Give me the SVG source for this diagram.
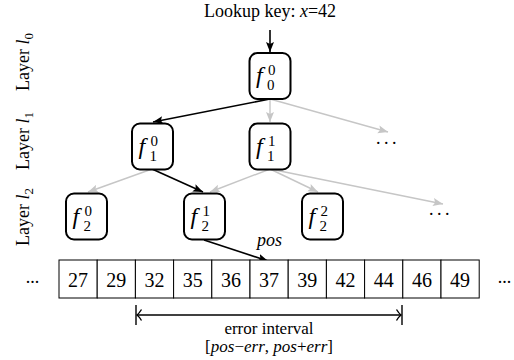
<svg xmlns="http://www.w3.org/2000/svg" width="514" height="360" viewBox="0 0 514 360" font-family="'Liberation Serif', 'DejaVu Serif', serif">
<style>
text{font-family:'Liberation Serif','DejaVu Serif',serif;fill:#000}
.t{font-size:18px}
.it{font-style:italic}
.node rect{fill:#fff;stroke:#000;stroke-width:2}
.f{font-size:24px;font-style:italic}
.s{font-size:15px}
.blk{stroke:#000;stroke-width:1.6;fill:none}
.gry{stroke:#c6c6c6;stroke-width:1.4;fill:none}
.cell{fill:#fff;stroke:#000;stroke-width:1}
.num{font-size:20px;text-anchor:middle}
.ei{font-size:17px;text-anchor:middle}
</style>
<defs>
<marker id="ab" markerUnits="userSpaceOnUse" markerWidth="11" markerHeight="9" refX="10" refY="4" orient="auto" viewBox="0 0 11 8">
<path d="M0,0 L10,4 L0,8 L2,4 z" fill="#000"/>
</marker>
<marker id="ag" markerUnits="userSpaceOnUse" markerWidth="11" markerHeight="9" refX="10" refY="4" orient="auto" viewBox="0 0 11 8">
<path d="M0,0 L10,4 L0,8 L2,4 z" fill="#c6c6c6"/>
</marker>
</defs>

<g id="labels">
<text class="t" x="270" y="17" text-anchor="middle">Lookup key: <tspan class="it">x</tspan>=42</text>
<text class="t" transform="translate(29,62) rotate(-90)" text-anchor="middle">Layer <tspan class="it">l</tspan><tspan font-size="13" dy="4">0</tspan></text>
<text class="t" transform="translate(29,141) rotate(-90)" text-anchor="middle">Layer <tspan class="it">l</tspan><tspan font-size="13" dy="4">1</tspan></text>
<text class="t" transform="translate(29,217) rotate(-90)" text-anchor="middle">Layer <tspan class="it">l</tspan><tspan font-size="13" dy="4">2</tspan></text>
<text class="t" x="388" y="144" text-anchor="middle" letter-spacing="3.5">...</text>
<text class="t" x="441" y="215" text-anchor="middle" letter-spacing="3.5">...</text>
<text class="t it" x="257" y="246">pos</text>
</g>

<g id="connectors">
<line class="blk" x1="270" y1="30" x2="270" y2="52" marker-end="url(#ab)"/>
<line class="gry" x1="270" y1="99" x2="270" y2="122" marker-end="url(#ag)"/>
<line class="gry" x1="270" y1="99" x2="388" y2="132" marker-end="url(#ag)"/>
<line class="blk" x1="270" y1="99" x2="153" y2="122" marker-end="url(#ab)"/>
<line class="gry" x1="152" y1="169" x2="88" y2="192" marker-end="url(#ag)"/>
<line class="gry" x1="270" y1="169" x2="210" y2="192" marker-end="url(#ag)"/>
<line class="gry" x1="270" y1="169" x2="318" y2="192" marker-end="url(#ag)"/>
<line class="gry" x1="270" y1="169" x2="443" y2="204" marker-end="url(#ag)"/>
<line class="blk" x1="152" y1="169" x2="203" y2="192" marker-end="url(#ab)"/>
<line class="blk" x1="204" y1="240" x2="268" y2="261" marker-end="url(#ab)"/>
</g>

<g id="f0_0" class="node">
<rect x="249.5" y="53" width="41" height="46" rx="8"/>
<text class="f" x="256" y="83">f</text><text class="s" x="268" y="75">0</text><text class="s" x="267" y="90">0</text>
</g>
<g id="f1_0" class="node">
<rect x="132" y="123.5" width="41" height="46" rx="8"/>
<text class="f" x="138.5" y="153.5">f</text><text class="s" x="150.5" y="145.5">0</text><text class="s" x="149.5" y="160.5">1</text>
</g>
<g id="f1_1" class="node">
<rect x="249.5" y="123.5" width="41" height="46" rx="8"/>
<text class="f" x="256" y="153.5">f</text><text class="s" x="268" y="145.5">1</text><text class="s" x="267" y="160.5">1</text>
</g>
<g id="f2_0" class="node">
<rect x="66" y="193.5" width="41" height="46" rx="8"/>
<text class="f" x="72.5" y="223.5">f</text><text class="s" x="84.5" y="215.5">0</text><text class="s" x="83.5" y="230.5">2</text>
</g>
<g id="f2_1" class="node">
<rect x="184" y="193.5" width="41" height="46" rx="8"/>
<text class="f" x="190.5" y="223.5">f</text><text class="s" x="202.5" y="215.5">1</text><text class="s" x="201.5" y="230.5">2</text>
</g>
<g id="f2_2" class="node">
<rect x="302" y="193.5" width="41" height="46" rx="8"/>
<text class="f" x="308.5" y="223.5">f</text><text class="s" x="320.5" y="215.5">2</text><text class="s" x="319.5" y="230.5">2</text>
</g>

<g id="array">
<rect class="cell" x="59" y="260" width="38.2" height="38"/>
<rect class="cell" x="97.2" y="260" width="38.2" height="38"/>
<rect class="cell" x="135.4" y="260" width="38.2" height="38"/>
<rect class="cell" x="173.6" y="260" width="38.2" height="38"/>
<rect class="cell" x="211.8" y="260" width="38.2" height="38"/>
<rect class="cell" x="250" y="260" width="38.2" height="38"/>
<rect class="cell" x="288.2" y="260" width="38.2" height="38"/>
<rect class="cell" x="326.4" y="260" width="38.2" height="38"/>
<rect class="cell" x="364.6" y="260" width="38.2" height="38"/>
<rect class="cell" x="402.8" y="260" width="38.2" height="38"/>
<rect class="cell" x="441" y="260" width="38.2" height="38"/>
<text class="num" x="78.1" y="286.5">27</text>
<text class="num" x="116.3" y="286.5">29</text>
<text class="num" x="154.5" y="286.5">32</text>
<text class="num" x="192.7" y="286.5">35</text>
<text class="num" x="230.9" y="286.5">36</text>
<text class="num" x="269.1" y="286.5">37</text>
<text class="num" x="307.3" y="286.5">39</text>
<text class="num" x="345.5" y="286.5">42</text>
<text class="num" x="383.7" y="286.5">44</text>
<text class="num" x="421.9" y="286.5">46</text>
<text class="num" x="460.1" y="286.5">49</text>
<text class="t" x="32.5" y="283" text-anchor="middle" font-size="16">...</text>
<text class="t" x="504.5" y="283" text-anchor="middle" font-size="16">...</text>
</g>

<g id="error_interval">
<line x1="136" y1="305" x2="136" y2="325" stroke="#000" stroke-width="1.4"/>
<line x1="402" y1="305" x2="402" y2="325" stroke="#000" stroke-width="1.4"/>
<line x1="137" y1="315" x2="401" y2="315" stroke="#000" stroke-width="1.6"/>
<path d="M141.5,309.5 Q139,313.5 137,315 Q139,316.5 141.5,320.5" fill="none" stroke="#000" stroke-width="1.4"/>
<path d="M396.5,309.5 Q399,313.5 401,315 Q399,316.5 396.5,320.5" fill="none" stroke="#000" stroke-width="1.4"/>
<text class="ei" x="269" y="334">error interval</text>
<text class="ei" x="269" y="352">[<tspan class="it">pos</tspan>−<tspan class="it">err</tspan>, <tspan class="it">pos</tspan>+<tspan class="it">err</tspan>]</text>
</g>
</svg>
